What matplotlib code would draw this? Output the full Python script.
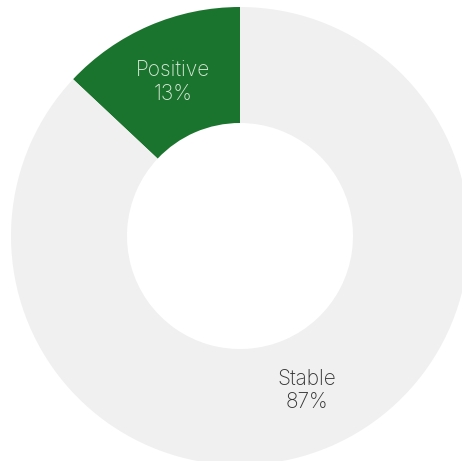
import matplotlib.pyplot as plt

labels = ["Positive", "Stable"]
values = [13, 87]
colors = ["#1a742e", "#f0f0f0"]
text_colors = ["#dcebdc", "#333333"]

fig = plt.figure(figsize=(4.62, 4.61), dpi=100)
ax = fig.add_axes([0, 0, 1, 1])

wedges, texts = ax.pie(
    values,
    labels=[f"{l}\n{v}%" for l, v in zip(labels, values)],
    colors=colors,
    startangle=90,
    counterclock=True,
    center=(240, 225),
    radius=229,
    labeldistance=0.735,
    frame=True,
    wedgeprops=dict(width=116, linewidth=0),
    textprops=dict(fontsize=15, family=["Inter", "DejaVu Sans"], fontweight="light",
                   ha="center", va="center", linespacing=1.25),
)
for t, c in zip(texts, text_colors):
    t.set_color(c)

ax.set_xlim(0, 462)
ax.set_ylim(0, 461)
ax.set_aspect("equal")
ax.axis("off")

fig.savefig("out.png", dpi=100)
